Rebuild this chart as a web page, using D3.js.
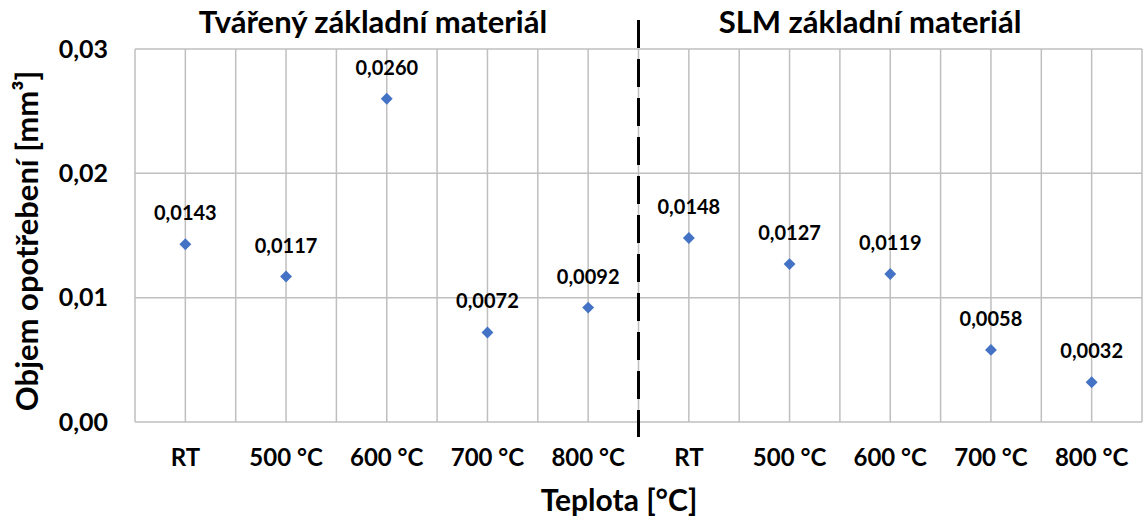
<!DOCTYPE html>
<html>
<head>
<meta charset="utf-8">
<script src="https://cdn.jsdelivr.net/npm/d3@7"></script>
<style>
  html, body { margin: 0; padding: 0; background: #fff; }
  svg { display: block; }
  text { font-family: Lato, "Open Sans", sans-serif; font-weight: bold; fill: #000; }
</style>
</head>
<body>
<svg id="chart" width="1144" height="520"></svg>
<script>
// ---- data ----
const categories = ["RT", "500 °C", "600 °C", "700 °C", "800 °C", "RT ", "500 °C ", "600 °C ", "700 °C ", "800 °C "];
const values = [0.0143, 0.0117, 0.0260, 0.0072, 0.0092, 0.0148, 0.0127, 0.0119, 0.0058, 0.0032];
const valueLabels = ["0,0143", "0,0117", "0,0260", "0,0072", "0,0092", "0,0148", "0,0127", "0,0119", "0,0058", "0,0032"];
const groupTitles = ["Tvářený základní materiál", "SLM základní materiál"];
const yTicks = [0, 0.01, 0.02, 0.03];
const yTickLabels = ["0,00", "0,01", "0,02", "0,03"];
const xTitle = "Teplota [°C]";
const yTitle = "Objem opotřebení [mm³]";

// ---- layout ----
const svg = d3.select("#chart");
const mLeft = 135, mRight = 1142, mTop = 49, mBottom = 422;

const x = d3.scaleBand().domain(categories).range([mLeft, mRight]).padding(0);
const y = d3.scaleLinear().domain([0, 0.03]).range([mBottom, mTop]);

const grid = svg.append("g");
const vLines = [];
categories.forEach(c => {
  vLines.push(x(c));
  vLines.push(x(c) + x.bandwidth() / 2);
});
vLines.push(mRight);
grid.selectAll("line.v").data(vLines).join("line")
  .attr("x1", d => d).attr("x2", d => d)
  .attr("y1", mTop).attr("y2", mBottom)
  .attr("stroke", "#bfbfbf").attr("stroke-width", 1.5);
grid.selectAll("line.h").data(yTicks).join("line")
  .attr("x1", mLeft).attr("x2", mRight)
  .attr("y1", d => y(d)).attr("y2", d => y(d))
  .attr("stroke", "#bfbfbf").attr("stroke-width", 1.5);

// y axis labels
const yAxis = d3.axisLeft(y).tickValues(yTicks)
  .tickFormat((d, i) => yTickLabels[i]).tickSize(0).tickPadding(27);
const ya = svg.append("g").attr("transform", `translate(${mLeft},0)`).call(yAxis);
ya.select(".domain").remove();
ya.selectAll("text").style("font-family", "Lato, sans-serif").style("font-weight", "bold")
  .style("font-size", "25px").attr("fill", "#000");

// x axis labels
const xAxis = d3.axisBottom(x).tickSize(0).tickPadding(27).tickFormat(d => d.trim());
const xa = svg.append("g").attr("transform", `translate(0,${mBottom})`).call(xAxis);
xa.select(".domain").remove();
xa.selectAll("text").style("font-family", "Lato, sans-serif").style("font-weight", "bold")
  .style("font-size", "24px").attr("fill", "#000");

// dashed separator between groups
const sepX = x(categories[5]);
svg.append("line")
  .attr("x1", sepX).attr("x2", sepX).attr("y1", 20).attr("y2", 437)
  .attr("stroke", "#000").attr("stroke-width", 3)
  .attr("stroke-dasharray", "28,11");

// group titles
svg.append("text").attr("x", 373).attr("y", 33).attr("text-anchor", "middle")
  .style("font-size", "31px").text(groupTitles[0]);
svg.append("text").attr("x", 870).attr("y", 33).attr("text-anchor", "middle")
  .style("font-size", "31px").text(groupTitles[1]);

// points
const diamond = d3.symbol().type(d3.symbolDiamond2).size(90);
svg.selectAll("path.pt").data(values).join("path")
  .attr("class", "pt")
  .attr("d", diamond)
  .attr("transform", (d, i) => `translate(${x(categories[i]) + x.bandwidth() / 2},${y(d)})`)
  .attr("fill", "#4472c4");

// data labels
svg.selectAll("text.lbl").data(values).join("text")
  .attr("class", "lbl")
  .attr("x", (d, i) => x(categories[i]) + x.bandwidth() / 2)
  .attr("y", d => y(d) - 24)
  .attr("text-anchor", "middle")
  .style("font-size", "20px")
  .text((d, i) => valueLabels[i]);

// axis titles
svg.append("text").attr("x", 619).attr("y", 511).attr("text-anchor", "middle")
  .style("font-size", "30px").text(xTitle);
svg.append("text").attr("transform", "translate(38,241) rotate(-90)")
  .attr("text-anchor", "middle").style("font-size", "31px").text(yTitle);
</script>
</body>
</html>
